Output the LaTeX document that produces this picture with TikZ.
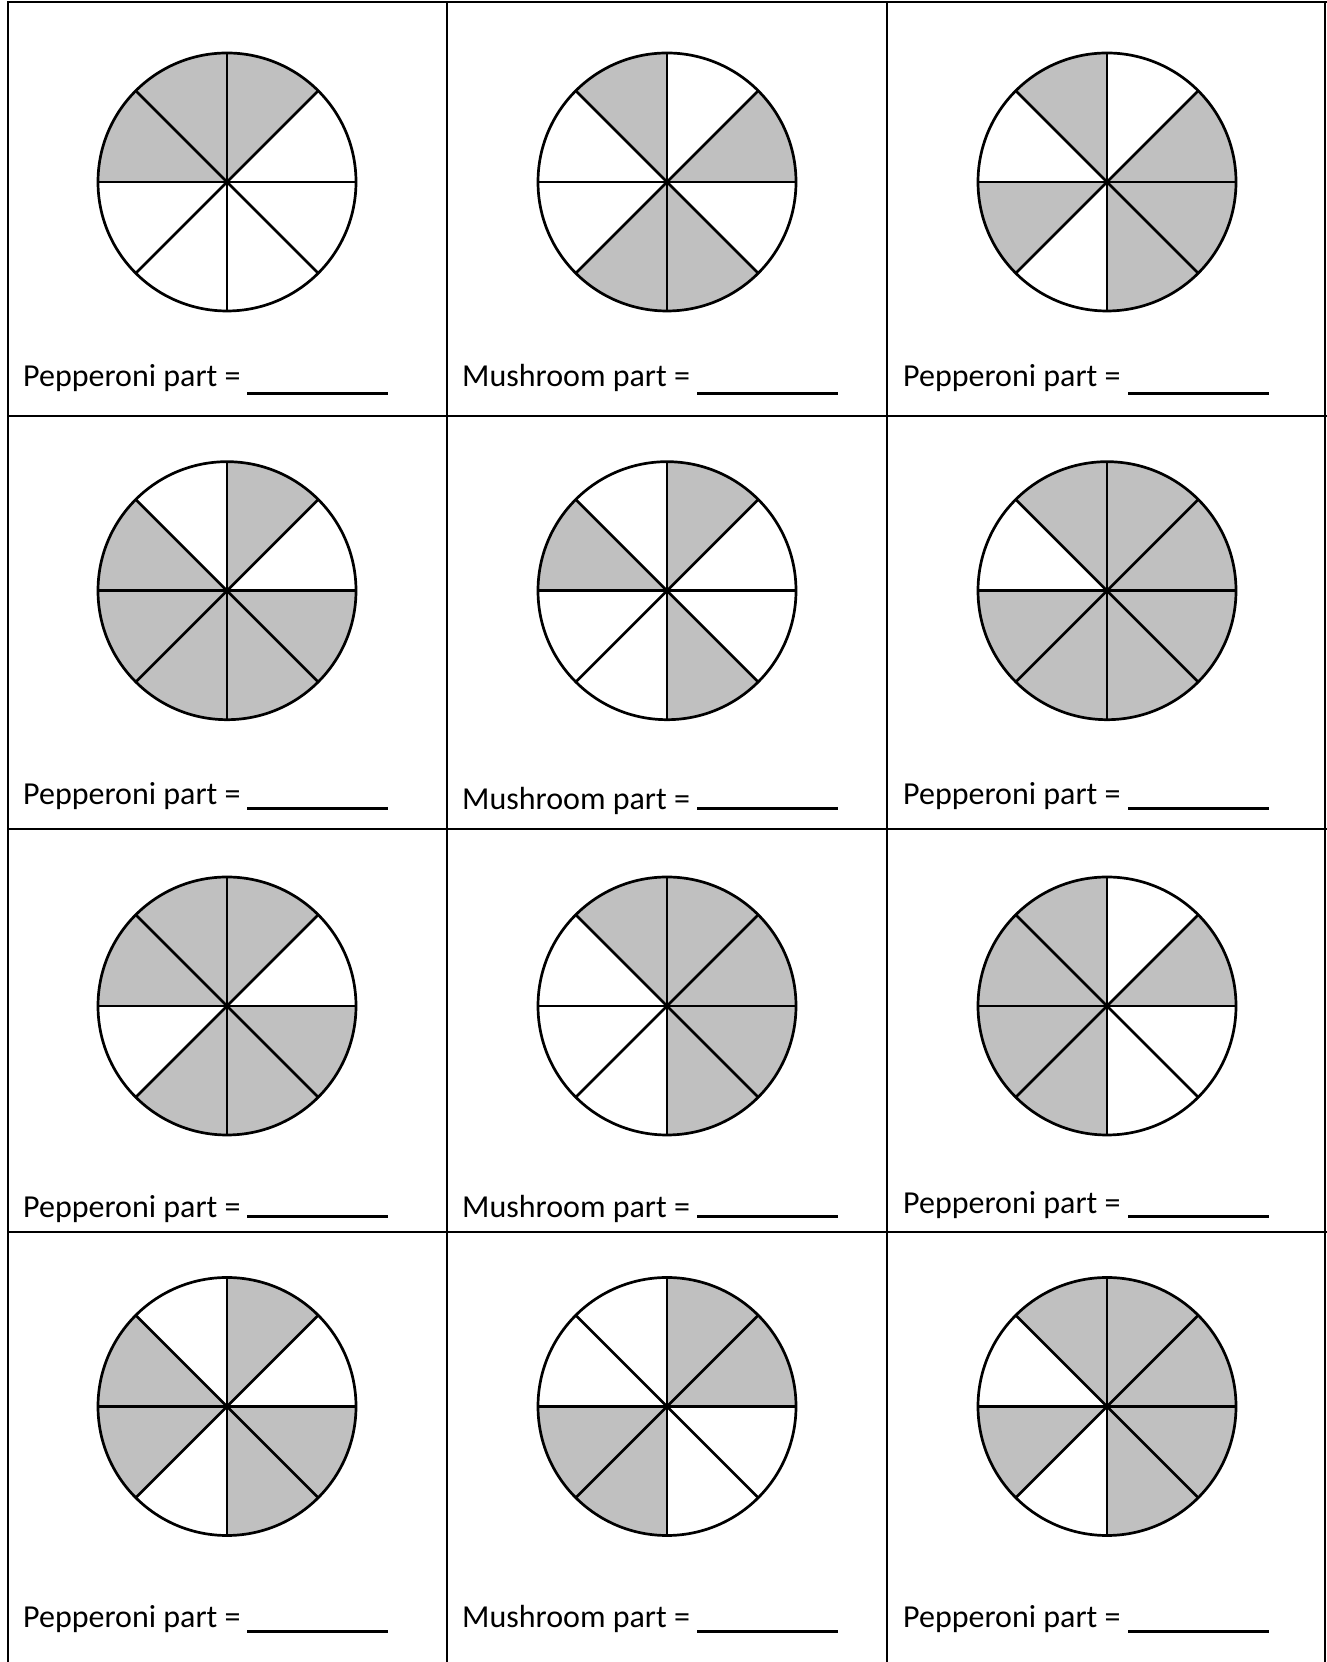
\documentclass[tikz,border=0pt]{standalone}
\usepackage{fontspec}
\setmainfont{Carlito}
\definecolor{pizzagrey}{RGB}{192,192,192}
\tikzset{
  gridline/.style={line width=2pt,black},
  slice/.style={fill=pizzagrey},
  pizzaline/.style={line width=2.7pt,black},
  answerline/.style={line width=3pt,black},
  labeltext/.style={anchor=base west,inner sep=0pt,font=\fontsize{32}{36}\selectfont},
}
% #1 name, #2 centre x, #3 centre y (y up), #4 shaded sector indices (sector k spans 45k..45k+45 deg)
\newcommand\drawpizza[4]{%
  \coordinate (#1) at (#2,#3);
  \foreach \k in {#4} {\fill[slice] (#1) -- ++({45*\k}:129) arc[start angle={45*\k}, end angle={45*\k+45}, radius=129] -- cycle;}
  \foreach \a in {0,45,...,315} {\draw[pizzaline] (#1) -- ++(\a:129);}
  \draw[pizzaline] (#1) circle[radius=129];
}
\begin{document}
\begin{tikzpicture}[x=1pt,y=1pt]
\useasboundingbox (0,0) rectangle (1327,1662);
\fill[white] (0,0) rectangle (1327,1662);
% grid
\foreach \gx in {8,447,887,1325} {\draw[gridline] (\gx,0) -- (\gx,1661);}
\foreach \gy in {1660,1246,832.7,429.5} {\draw[gridline] (7,\gy) -- (1326.5,\gy);}
% pizzas
\drawpizza{p11}{227}{1480}{1,2,3}
\drawpizza{p12}{667}{1480}{0,2,5,6}
\drawpizza{p13}{1107}{1480}{0,2,4,6,7}
\drawpizza{p21}{227}{1071.3}{1,3,4,5,6,7}
\drawpizza{p22}{667}{1071.3}{1,3,6}
\drawpizza{p23}{1107}{1071.3}{0,1,2,4,5,6,7}
\drawpizza{p31}{227}{656}{1,2,3,5,6,7}
\drawpizza{p32}{667}{656}{0,1,2,6,7}
\drawpizza{p33}{1107}{656}{0,2,3,4,5}
\drawpizza{p41}{227}{255.5}{1,3,4,6,7}
\drawpizza{p42}{667}{255.5}{0,1,4,5}
\drawpizza{p43}{1107}{255.5}{0,1,2,4,6,7}
% labels
\node[labeltext] (t11) at (23,1275) {Pepperoni part =};
\node[labeltext] (t12) at (462,1275) {Mushroom part =};
\node[labeltext] (t13) at (903,1275) {Pepperoni part =};
\node[labeltext] (t21) at (23,857) {Pepperoni part =};
\node[labeltext] (t22) at (462,852) {Mushroom part =};
\node[labeltext] (t23) at (903,857) {Pepperoni part =};
\node[labeltext] (t31) at (23,444) {Pepperoni part =};
\node[labeltext] (t32) at (462,444) {Mushroom part =};
\node[labeltext] (t33) at (903,448.5) {Pepperoni part =};
\node[labeltext] (t41) at (23,34) {Pepperoni part =};
\node[labeltext] (t42) at (462,34) {Mushroom part =};
\node[labeltext] (t43) at (903,34) {Pepperoni part =};
% answer lines
\foreach \uy in {1268.7,853,445,30.3} {
  \draw[answerline] (247,\uy) -- (388,\uy);
  \draw[answerline] (697,\uy) -- (838,\uy);
  \draw[answerline] (1128,\uy) -- (1269,\uy);
}
\end{tikzpicture}
\end{document}
